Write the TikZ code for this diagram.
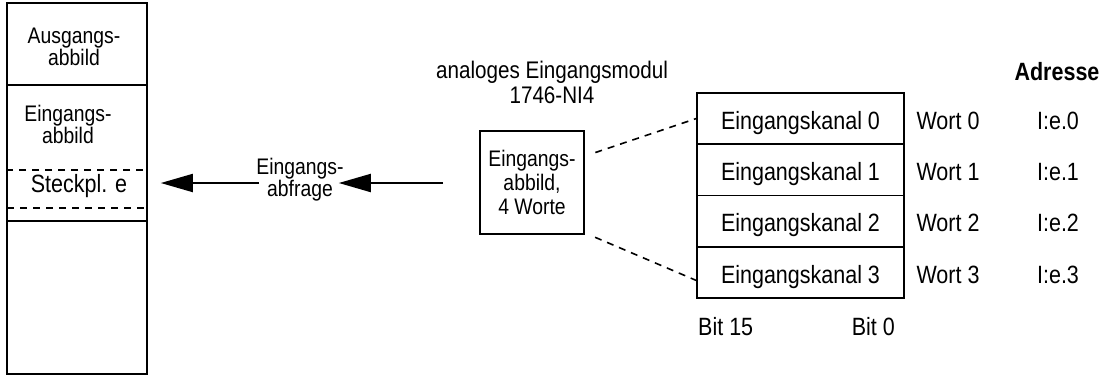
\documentclass[tikz,border=0pt]{standalone}
\usepackage{fontspec}
\setmainfont{Liberation Sans}[FakeStretch=0.86]
\usetikzlibrary{arrows.meta}
\begin{document}
\begin{tikzpicture}[x=1pt,y=-1pt,
  box/.style={draw,line width=1.9pt,inner sep=0pt},
  txt/.style={inner sep=0pt,align=center,font=\fontsize{22.5}{22}\selectfont},
  big/.style={inner sep=0pt,font=\fontsize{25}{25}\selectfont},
  arr/.style={line width=1.9pt,-{Triangle[length=32pt,width=18pt]}},
  dashline/.style={line width=1.6pt,dash pattern=on 7pt off 6pt},
]
\useasboundingbox (0,0) rectangle (1107,376);

% processor image table
\node[box,minimum width=140pt,minimum height=82pt] (outimg) at (77,44) {};
\node[box,minimum width=140pt,minimum height=136pt] (inimg) at (77,153) {};
\node[box,minimum width=140pt,minimum height=153pt] (rest) at (77,297.5) {};
\node[dashline,draw,minimum width=140pt,minimum height=38pt,inner sep=0pt] (slot) at (77,189) {};

\node[txt] (outtxt) at (74,46.5) {Ausgangs-\\abbild};
\node[txt] (intxt) at (68,124.5) {Eingangs-\\abbild};
\node[big] (slottxt) at (79,186.5) {Steckpl. e};

% input scan
\node[txt] (scanlbl) at (300,180) {Eingangs-\\abfrage};
\coordinate (scanin) at (443,183);
\draw[arr,shorten >=13pt] ([shift={(3,3)}]scanlbl.west) -- ([yshift=6pt]slot.east);
\draw[arr] (scanin) -- ([shift={(-5,3)}]scanlbl.east);

% module
\node[inner sep=0pt,align=center,font=\fontsize{24}{25}\selectfont] (modtitle) at (552,82)
  {analoges Eingangsmodul\\1746-NI4};
\node[box,align=center,font=\fontsize{22.5}{24}\selectfont,minimum width=104pt,minimum height=103pt]
  (modimg) at (532,182.5) {Eingangs-\\abbild,\\4 Worte};

% channel words and addresses
\node[big,font=\bfseries\fontsize{25}{25}\selectfont,anchor=base] (addr) at (1057,80) {Adresse};
\foreach \i in {0,...,3} {
  \node[box,big,minimum width=207pt,minimum height=51.25pt,text height=21.4pt,text depth=0pt]
    (ch\i) at (800.5,{118.6+51.25*\i}) {Eingangskanal \i};
  \node[big,anchor=base] (w\i) at (948,{129.3+51.25*\i}) {Wort \i};
  \node[big,anchor=base] (ad\i) at (1058,{129.3+51.25*\i}) {I:e.\i};
}
\node[big,anchor=base west] (b15) at (698,335) {Bit 15};
\node[big,anchor=base east] (b0) at (895,335) {Bit 0};

\draw[dashline,shorten <=11pt] ([yshift=-26pt]modimg.north east) -- (ch0.west);
\draw[dashline,shorten <=11pt] ([yshift=2pt]modimg.south east) -- ([yshift=-8pt]ch3.west);
\end{tikzpicture}
\end{document}
